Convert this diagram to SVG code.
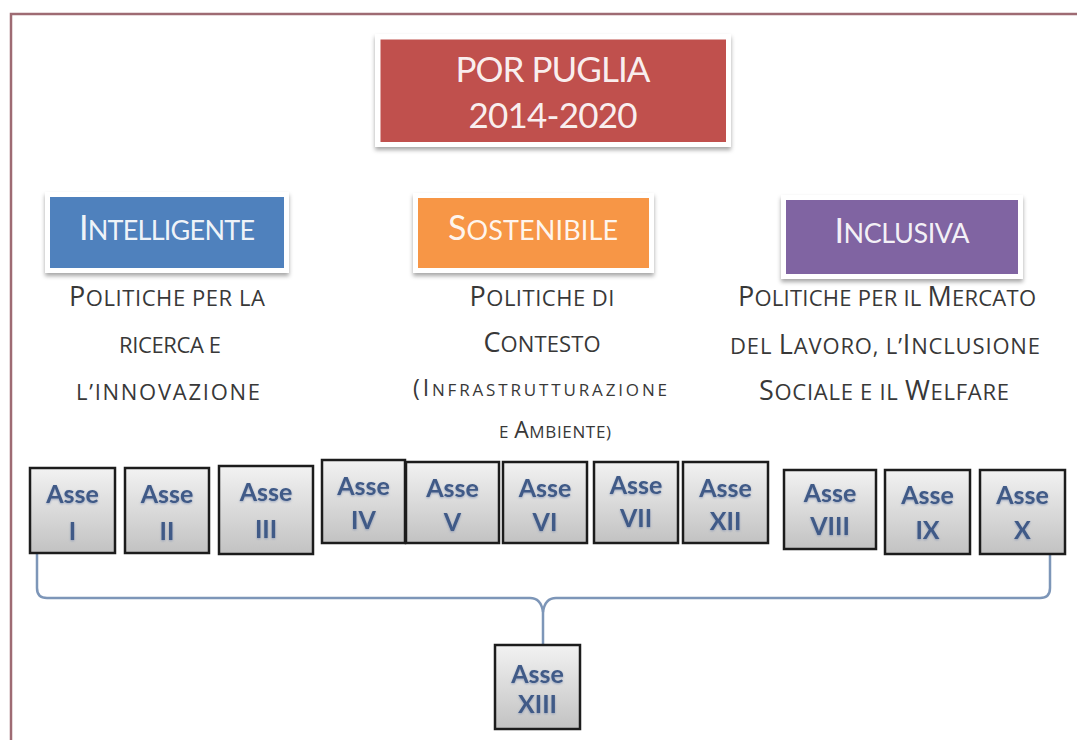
<svg xmlns="http://www.w3.org/2000/svg" width="1077" height="740" viewBox="0 0 1077 740">
<defs>
<linearGradient id="gBox" x1="0" y1="0" x2="0" y2="1">
<stop offset="0" stop-color="#f2f2f2"/>
<stop offset="1" stop-color="#c2c2c2"/>
</linearGradient>
<filter id="sh" x="-10%" y="-10%" width="120%" height="130%">
<feDropShadow dx="0" dy="3" stdDeviation="2" flood-color="#000" flood-opacity="0.35"/>
</filter>
<filter id="tsh" x="-10%" y="-10%" width="120%" height="130%">
<feDropShadow dx="0" dy="1" stdDeviation="1" flood-color="#6a7fa8" flood-opacity="0.6"/>
</filter>
</defs>
<style>
.frame{fill:none;stroke:#9e6b73;stroke-width:2.5}
.halo{fill:#ffffff;filter:url(#sh)}
.title{font-family:Lato,"Liberation Sans",sans-serif;fill:#ffffff;fill-opacity:0.92;text-anchor:middle}
.body{font-family:"Open Sans","Liberation Sans",sans-serif;font-weight:500;fill:#383838;text-anchor:middle}
.sm{font-size:22px}
.sm3{font-size:17px}
.cap{font-size:27px}
.cap3{font-size:23px}
.asse rect{fill:url(#gBox);stroke:#1c1c1c;stroke-width:2.5}
.asse text{font-family:Lato,"Liberation Sans",sans-serif;font-weight:bold;font-size:25px;fill:#3f5a87;text-anchor:middle;filter:url(#tsh)}
.brace{fill:none;stroke:#7d96b8;stroke-width:2.5;stroke-linejoin:round}
</style>
<rect width="1077" height="740" fill="#ffffff"/>
<path class="frame" d="M11,742 L11,14 L1079,14"/>

<g id="por">
<rect class="halo" x="375" y="34" width="356" height="113"/>
<rect x="380.5" y="39.5" width="345.5" height="102.5" fill="#c0504d"/>
<text class="title" x="553" y="82" font-size="35" textLength="195">POR PUGLIA</text>
<text class="title" x="553" y="128" font-size="35" textLength="169">2014-2020</text>
</g>

<g id="intelligente">
<rect class="halo" x="45" y="192" width="244" height="81"/>
<rect x="50" y="197" width="234" height="71" fill="#4f81bd"/>
<text class="title" x="167" y="240" font-size="27" textLength="176"><tspan font-size="34">I</tspan>NTELLIGENTE</text>
</g>

<g id="sostenibile">
<rect class="halo" x="413" y="193" width="241" height="80"/>
<rect x="418" y="198" width="231" height="70" fill="#f79646"/>
<text class="title" x="533" y="240" font-size="27" textLength="170"><tspan font-size="34">S</tspan>OSTENIBILE</text>
</g>

<g id="inclusiva">
<rect class="halo" x="781" y="195" width="242" height="84"/>
<rect x="786" y="200" width="232" height="74" fill="#8064a2"/>
<text class="title" x="902" y="243" font-size="27" textLength="135"><tspan font-size="34">I</tspan>NCLUSIVA</text>
</g>

<g id="text-intelligente">
<text class="body sm" x="167" y="306" textLength="196"><tspan class="cap">P</tspan>OLITICHE PER LA</text>
<text class="body sm" x="170" y="353" textLength="102">RICERCA E</text>
<text class="body sm" x="168" y="400" textLength="184">L’INNOVAZIONE</text>
</g>

<g id="text-sostenibile">
<text class="body sm" x="542" y="306" textLength="145"><tspan class="cap">P</tspan>OLITICHE DI</text>
<text class="body sm" x="542" y="352" textLength="117"><tspan class="cap">C</tspan>ONTESTO</text>
<text class="body sm3" x="540" y="396" textLength="254"><tspan class="cap3">(I</tspan>NFRASTRUTTURAZIONE</text>
<text class="body sm3" x="555" y="438" textLength="112">E <tspan class="cap3">A</tspan>MBIENTE)</text>
</g>

<g id="text-inclusiva">
<text class="body sm" x="887" y="306" textLength="298"><tspan class="cap">P</tspan>OLITICHE PER IL <tspan class="cap">M</tspan>ERCATO</text>
<text class="body sm" x="885" y="354" textLength="310">DEL <tspan class="cap">L</tspan>AVORO,  L’<tspan class="cap">I</tspan>NCLUSIONE</text>
<text class="body sm" x="884" y="400" textLength="250"><tspan class="cap">S</tspan>OCIALE E IL <tspan class="cap">W</tspan>ELFARE</text>
</g>

<g id="connectors">
<path class="brace" d="M37,553 L37,588 Q37,598 47,598 L530,598 Q541,598 543,612 L543,645"/>
<path class="brace" d="M1050,551 L1050,588 Q1050,598 1040,598 L556,598 Q545,598 543,612"/>
</g>

<g id="asse-1" class="asse"><rect x="30" y="468" width="85" height="85"/><text x="72.5" y="503">Asse</text><text x="72.5" y="540">I</text></g>
<g id="asse-2" class="asse"><rect x="125" y="468" width="84" height="85"/><text x="167" y="503">Asse</text><text x="167" y="540">II</text></g>
<g id="asse-3" class="asse"><rect x="219" y="466" width="94" height="88"/><text x="266" y="501">Asse</text><text x="266" y="538">III</text></g>
<g id="asse-4" class="asse"><rect x="322" y="460" width="83" height="83"/><text x="363.5" y="495">Asse</text><text x="363.5" y="529">IV</text></g>
<g id="asse-5" class="asse"><rect x="406" y="462" width="93" height="81"/><text x="452.5" y="497">Asse</text><text x="452.5" y="531">V</text></g>
<g id="asse-6" class="asse"><rect x="503" y="462" width="84" height="81"/><text x="545" y="497">Asse</text><text x="545" y="531">VI</text></g>
<g id="asse-7" class="asse"><rect x="594" y="462" width="84" height="81"/><text x="636" y="494">Asse</text><text x="636" y="527">VII</text></g>
<g id="asse-12" class="asse"><rect x="683" y="462" width="85" height="81"/><text x="725.5" y="497">Asse</text><text x="725.5" y="530">XII</text></g>
<g id="asse-8" class="asse"><rect x="784" y="470" width="92" height="79"/><text x="830" y="502">Asse</text><text x="830" y="535">VIII</text></g>
<g id="asse-9" class="asse"><rect x="885" y="470" width="85" height="84"/><text x="927.5" y="504">Asse</text><text x="927.5" y="539">IX</text></g>
<g id="asse-10" class="asse"><rect x="980" y="470" width="85" height="84"/><text x="1022.5" y="504">Asse</text><text x="1022.5" y="539">X</text></g>
<g id="asse-13" class="asse"><rect x="495" y="645" width="85" height="84"/><text x="537.5" y="683">Asse</text><text x="537.5" y="713">XIII</text></g>
</svg>
